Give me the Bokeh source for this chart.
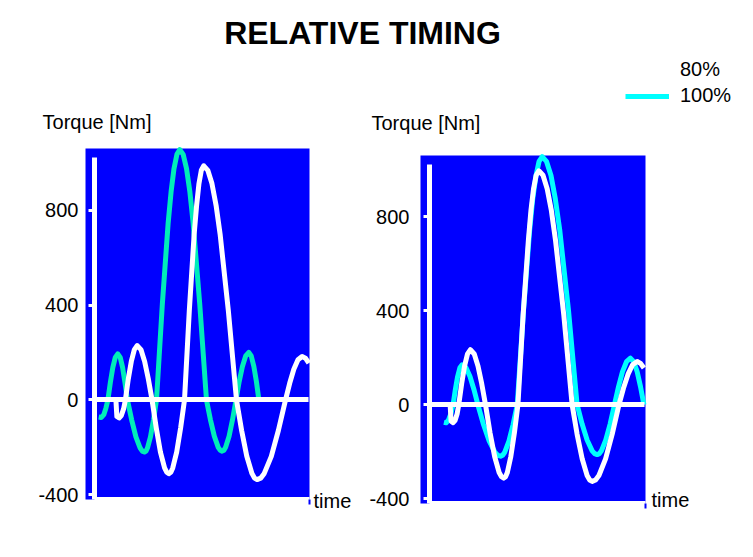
from bokeh.plotting import figure
from bokeh.layouts import column, row
from bokeh.models import LinearAxis, Label, Legend, LegendItem, FixedTicker, Range1d
from bokeh.embed import file_html
from bokeh.resources import INLINE

FONT = "Liberation Sans"

title_text = "RELATIVE TIMING"
y_label = "Torque [Nm]"
x_label = "time"
series_names = ["80%", "100%"]
y_ticks = [-400, 0, 400, 800]
y_tick_labels = {-400: "-400", 0: "0", 400: "400", 800: "800"}

# plotted region (time units, Nm)
t_start, t_end = -4, 96
torque_min, torque_max = -420, 1060

# left panel: absolute timing
left_t_100 = [1.9, 3.0, 4.2, 5.1, 6.0, 7.1, 8.2, 9.3, 10.4, 11.5, 12.55, 13.6, 14.7, 16.6, 18.5, 20.4, 21.35,
              22.3, 23.0, 23.65, 25.0, 26.35, 27.7, 30.3, 32.9, 34.2, 35.5, 36.8, 38.1, 39.6, 41.1, 42.6,
              44.05, 47.0, 50.0, 51.75, 53.5, 55.25, 56.1, 57.0, 57.8, 58.55, 60.1, 61.65, 63.2, 64.6, 66.05,
              67.5, 68.9, 70.0, 71.15, 72.3, 73.4]
left_v_100 = [-72, -74, -62, -35, 0, 74, 137, 179, 194, 179, 137, 74, 0, -84, -156, -203, -216,
              -220, -216, -203, -156, -84, 0, 404, 746, 877, 975, 1035, 1055, 1035, 975, 877,
              746, 404, 0, -83, -153, -200, -212, -216, -212, -200, -153, -83, 0, 77, 141,
              185, 200, 185, 141, 77, 0]
left_t_80 = [9.6, 10.0, 11.0, 12.0, 13.0, 13.8, 15.1, 16.45, 17.8, 19.1, 20.75, 22.4, 24.05, 25.7, 27.6, 29.45,
             31.3, 32.25, 33.2, 34.1, 34.95, 36.7, 38.45, 40.2, 42.35, 44.5, 45.6, 46.65, 47.7, 48.8, 50.6,
             52.45, 54.3, 56.1, 59.75, 63.4, 65.7, 68.0, 70.3, 71.45, 72.6, 74.2, 75.8, 78.95, 82.1, 85.3,
             87.15, 89.0, 90.85, 92.7, 94.2, 95.7]
left_v_80 = [-5, -70, -76, -66, -38, 0, 88, 162, 212, 229, 212, 162, 88, 0, -119, -220,
             -287, -305, -311, -305, -287, -220, -119, 0, 378, 698, 820, 912, 968, 987, 968,
             912, 820, 698, 378, 0, -129, -238, -310, -330, -336, -330, -310, -238, -129, 0,
             70, 129, 169, 183, 176, 155]

# right panel: relative timing
right_t_100 = [6.4, 7.4, 8.4, 9.5, 10.5, 11.5, 12.5, 13.5, 14.5, 16.25, 18.0, 19.75, 21.5, 24.0, 26.55, 29.05,
               30.3, 31.6, 32.5, 33.45, 35.3, 37.15, 39.0, 41.8, 44.55, 45.9, 47.35, 48.7, 50.1, 52.0, 54.0,
               55.9, 57.85, 61.75, 65.6, 67.8, 70.05, 72.3, 73.4, 74.5, 75.5, 76.4, 78.35, 80.3, 82.2, 84.0,
               85.75, 87.55, 89.3, 90.8, 92.3, 93.8, 95.3]
right_v_100 = [-75, -77, -66, -38, 0, 65, 120, 157, 170, 157, 120, 65, 0, -84, -155, -202,
               -215, -219, -215, -202, -155, -84, 0, 404, 746, 877, 975, 1035, 1055, 1035, 975,
               877, 746, 404, 0, -81, -150, -196, -208, -212, -208, -196, -150, -81, 0, 76,
               140, 183, 198, 183, 140, 76, 0]
right_t_80 = [9.2, 9.6, 10.5, 11.4, 12.3, 13.0, 14.3, 15.6, 16.9, 18.2, 19.9, 21.55, 23.2, 24.9, 26.9, 28.95,
              30.95, 32.0, 33.0, 33.8, 34.6, 36.15, 37.75, 39.3, 41.6, 43.95, 45.1, 46.25, 47.4, 48.6, 50.45,
              52.3, 54.15, 56.0, 59.7, 63.4, 65.6, 67.85, 70.05, 71.2, 72.3, 73.8, 75.3, 78.25, 81.2, 84.2,
              86.2, 88.25, 90.25, 92.3, 93.8, 95.3]
right_v_80 = [-5, -70, -76, -66, -38, 0, 90, 165, 216, 234, 216, 165, 90, 0, -119, -220,
              -288, -306, -312, -306, -288, -220, -119, 0, 381, 700, 827, 919, 976, 995, 976,
              919, 827, 700, 381, 0, -125, -230, -301, -320, -326, -320, -301, -230, -125, 0,
              70, 130, 170, 184, 176, 156]

BLUE = "#0000FF"
TEAL = "#00EDB9"
CYAN = "#00FFFF"

PANEL_H = 415


def make_panel(t100, v100, t80, v80, color100, width, x_lo, x_hi, y_lo, y_hi,
               standoff, lab_dx, lab_dy, time_dx, time_dy):
    p = figure(width=width, height=PANEL_H, title=None,
               x_range=Range1d(x_lo, x_hi), y_range=Range1d(y_lo, y_hi),
               output_backend="svg", toolbar_location=None,
               x_axis_type=None, y_axis_type=None, min_border=0,
               background_fill_color="white", border_fill_color="white",
               outline_line_color=None)
    # blue plotting area
    p.quad(left=[t_start], right=[t_end], bottom=[torque_min], top=[torque_max],
           fill_color=BLUE, line_color=None)
    p.line(t100, v100, line_color=color100, line_width=5, line_join="round")
    p.line(t80, v80, line_color="white", line_width=5, line_join="round")

    yaxis = LinearAxis(fixed_location=0, ticker=FixedTicker(ticks=y_ticks), bounds=(torque_min, 1020),
                       axis_line_color="white", axis_line_width=5,
                       major_tick_line_color="white", major_tick_line_width=3,
                       major_tick_out=6, major_tick_in=0, minor_tick_line_color=None,
                       major_label_overrides=y_tick_labels,
                       major_label_text_font=FONT, major_label_text_font_size="20px",
                       major_label_text_color="black", major_label_standoff=standoff)
    p.add_layout(yaxis, "left")

    xaxis = LinearAxis(fixed_location=torque_min, ticker=FixedTicker(ticks=[t_end]), bounds=(0, t_end),
                       axis_line_color="white", axis_line_width=5,
                       major_tick_line_color=BLUE, major_tick_line_width=2,
                       major_tick_out=5, major_tick_in=0, minor_tick_line_color=None,
                       major_label_text_font_size="0px", major_label_overrides={t_end: ""})
    p.add_layout(xaxis, "below")

    zero_axis = LinearAxis(fixed_location=0, ticker=FixedTicker(ticks=[]), bounds=(0, 95.5),
                           axis_line_color="white", axis_line_width=5,
                           major_tick_line_color=None, minor_tick_line_color=None,
                           major_label_text_font_size="0px")
    p.add_layout(zero_axis, "below")

    p.add_layout(Label(x=t_start, y=torque_max, x_offset=lab_dx, y_offset=lab_dy, text=y_label,
                       text_font=FONT, text_font_size="20px", text_color="black",
                       text_baseline="middle", text_align="left"))
    p.add_layout(Label(x=t_end, y=torque_min, x_offset=time_dx, y_offset=time_dy, text=x_label,
                       text_font=FONT, text_font_size="20px", text_color="black",
                       text_baseline="middle", text_align="left"))
    return p


# left: page x 0..365, blue area 85..309 (x), 148..499 (y)
left = make_panel(left_t_100, left_v_100, left_t_80, left_v_80, TEAL, 365,
                  -41.95, 121.0, -529.6, 1220.2, 10, -43, 26, 4, -1)
# right: page x 365..753, blue area 420..645 (x), 155..503 (y)
right = make_panel(right_t_100, right_v_100, right_t_80, right_v_80, CYAN, 388,
                   -28.44, 144.0, -513.6, 1251.4, 14, -49, 33, 6, 3)

# header with title and legend
h = figure(width=753, height=110, title=None, x_range=Range1d(0, 753), y_range=Range1d(0, 110),
           output_backend="svg", toolbar_location=None, x_axis_type=None, y_axis_type=None,
           min_border=0, outline_line_color=None, border_fill_color="white",
           background_fill_color="white")
h.add_layout(Label(x=362, y=78, text=title_text, text_font=FONT, text_font_size="32px",
                   text_font_style="bold", text_color="black",
                   text_align="center", text_baseline="middle"))
r80 = h.line(x=[-50, -40], y=[-50, -50], line_color="white", line_width=5)
r100 = h.line(x=[-50, -40], y=[-50, -50], line_color=CYAN, line_width=5)
legend = Legend(items=[LegendItem(label=series_names[0], renderers=[r80]),
                       LegendItem(label=series_names[1], renderers=[r100])],
                location=(625, 3), orientation="vertical",
                glyph_width=44, glyph_height=20, label_standoff=11, padding=0, margin=0, spacing=3,
                border_line_color=None, background_fill_alpha=0,
                label_text_font=FONT, label_text_font_size="20px", label_text_color="black")
h.add_layout(legend)

layout = column(h, row(left, right, spacing=0), spacing=0)

open("out.html", "w").write(file_html(layout, INLINE))
